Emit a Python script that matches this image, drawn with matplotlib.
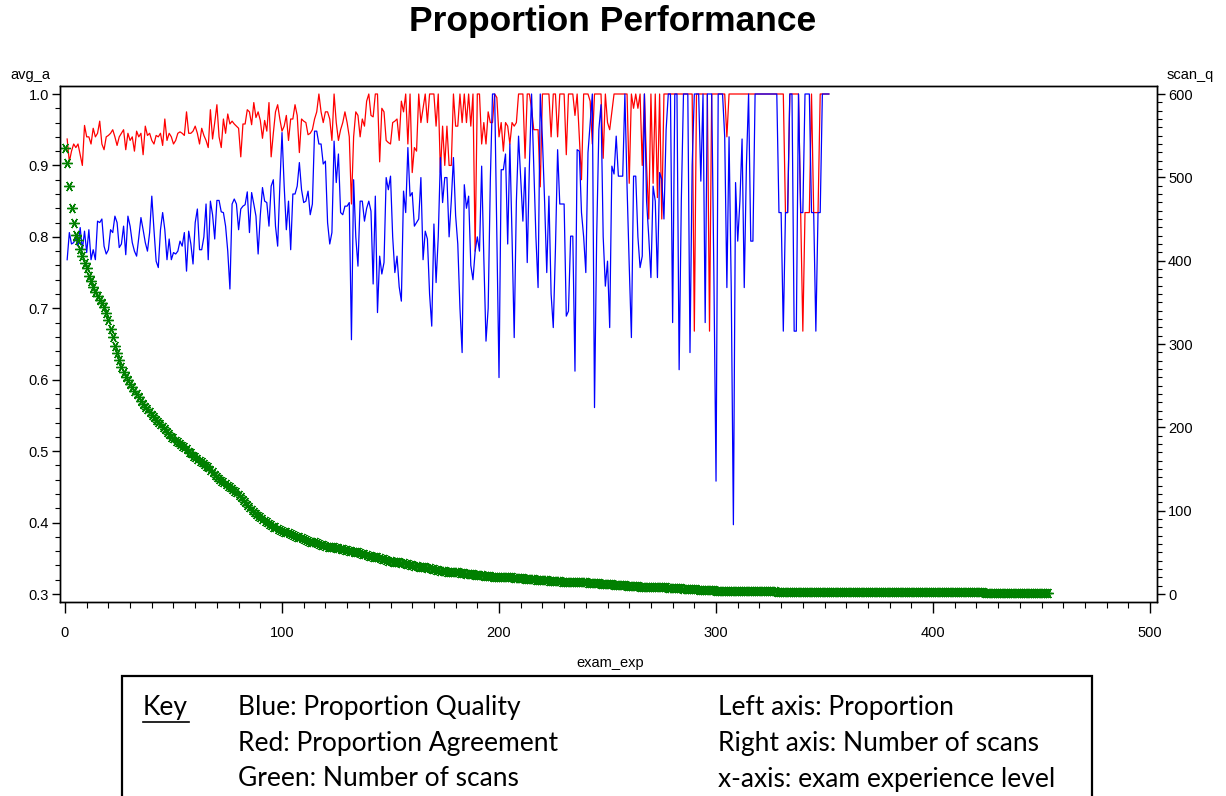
import numpy as np
import matplotlib
matplotlib.use("Agg")
import matplotlib.pyplot as plt
from matplotlib.ticker import MultipleLocator, FormatStrFormatter
from matplotlib.patches import Rectangle
from matplotlib.lines import Line2D

plt.rcParams['font.family'] = ['Liberation Sans', 'DejaVu Sans']

# proportion agreement (red), exam_exp = 1..352
agree = [
    0.937, 0.905, 0.920, 0.930, 0.925, 0.930, 0.915, 0.900, 0.956, 0.940,
    0.940, 0.930, 0.952, 0.940, 0.945, 0.962, 0.930, 0.922, 0.940, 0.942,
    0.945, 0.950, 0.940, 0.928, 0.940, 0.945, 0.950, 0.922, 0.945, 0.935,
    0.940, 0.920, 0.948, 0.940, 0.945, 0.915, 0.955, 0.942, 0.945, 0.935,
    0.930, 0.942, 0.940, 0.945, 0.928, 0.965, 0.935, 0.945, 0.940, 0.930,
    0.935, 0.945, 0.947, 0.945, 0.942, 0.975, 0.945,
    0.945, 0.948, 0.955, 0.945, 0.930, 0.952, 0.942, 0.935, 0.925, 0.978,
    0.937, 0.960, 0.985, 0.940, 0.925, 0.965, 0.945, 0.972, 0.958, 0.962,
    0.958, 0.955, 0.952, 0.912, 0.958, 0.958, 0.978, 0.975, 0.957, 0.988,
    0.967, 0.975, 0.963, 0.938, 0.963, 0.948, 0.988, 0.912, 0.945, 0.975,
    0.985, 0.965, 0.948, 0.955, 0.970, 0.935, 0.965, 0.965, 0.985, 0.970,
    0.918, 0.965, 0.962, 0.960, 0.943, 0.945, 0.950, 0.965, 0.975, 1.000,
    0.975, 0.960, 0.975, 0.975, 0.965, 0.935, 1.000, 0.960, 0.935, 0.950,
    0.960, 0.975, 0.960, 0.940, 0.846, 0.940, 0.975, 0.970, 0.940, 0.965,
    0.955, 0.990, 1.000, 0.970, 0.968, 1.000, 1.000, 0.905, 0.980, 0.975,
    0.935, 0.932, 0.930, 0.960, 0.962, 0.965, 0.935, 0.990, 0.975, 1.000,
    0.930, 1.000, 0.890, 0.925, 0.920, 1.000, 0.960, 0.980, 1.000, 0.960,
    1.000, 1.000, 1.000, 0.955, 1.000, 0.890, 0.955, 0.900, 0.955, 0.900,
    0.900, 1.000, 0.955, 0.955, 1.000, 0.960, 1.000, 0.960, 1.000, 0.955,
    1.000, 0.780, 1.000, 1.000, 0.930, 0.960, 0.930, 0.975, 0.960, 0.960,
    1.000, 0.995, 0.940, 0.960, 0.920, 0.960, 0.955, 0.930, 0.960, 0.955,
    0.960, 1.000, 1.000, 1.000, 0.910, 1.000, 1.000, 0.980, 0.950, 0.950,
    0.950, 0.870, 1.000, 1.000, 1.000, 1.000, 0.940, 1.000, 1.000, 0.940,
    1.000, 1.000, 1.000, 0.915, 1.000, 1.000, 1.000, 0.970, 1.000, 0.940,
    0.880, 1.000, 1.000, 1.000, 0.990, 0.930, 1.000, 1.000, 1.000, 1.000,
    0.910, 1.000, 0.960, 0.950, 0.975, 1.000, 1.000, 1.000, 1.000, 1.000,
    1.000, 1.000, 0.875, 1.000, 0.980, 1.000, 0.980, 1.000, 0.900, 1.000,
    0.900, 0.825, 1.000, 0.875, 1.000, 0.855, 1.000, 0.825, 1.000, 1.000,
    1.000, 1.000, 1.000, 1.000, 1.000, 1.000, 1.000, 1.000, 1.000, 1.000,
    1.000, 1.000, 0.668, 1.000, 1.000, 1.000, 1.000, 1.000, 1.000, 0.668,
    1.000, 1.000, 1.000, 1.000, 1.000, 1.000, 1.000, 0.940, 1.000, 1.000,
    1.000, 1.000, 1.000, 1.000, 1.000, 1.000, 1.000, 1.000, 1.000, 1.000,
    1.000, 1.000, 1.000, 1.000, 1.000, 1.000, 1.000, 1.000, 1.000, 1.000,
    1.000, 1.000, 1.000, 1.000, 0.834, 0.834, 1.000, 1.000, 1.000, 1.000,
    1.000, 0.834, 0.668, 0.834, 0.834, 0.834, 1.000, 0.834, 0.834, 0.834,
    1.000, 1.000, 1.000, 1.000, 1.000,
]

# proportion quality (blue), exam_exp = 1..352
quality = [
    0.768, 0.806, 0.790, 0.792, 0.799, 0.787, 0.813, 0.782, 0.808, 0.778,
    0.810, 0.768, 0.782, 0.768, 0.822, 0.820, 0.825, 0.787, 0.776, 0.782,
    0.810, 0.806, 0.829, 0.820, 0.785, 0.790, 0.815, 0.775, 0.829, 0.815,
    0.792, 0.780, 0.773, 0.799, 0.827, 0.810, 0.792, 0.780, 0.806, 0.857,
    0.810, 0.766, 0.757, 0.810, 0.834, 0.810, 0.768, 0.797, 0.768, 0.778,
    0.776, 0.780, 0.794, 0.787, 0.806, 0.752, 0.808,
    0.790, 0.762, 0.820, 0.839, 0.782, 0.782, 0.800, 0.846, 0.768, 0.850,
    0.831, 0.797, 0.851, 0.851, 0.835, 0.834, 0.815, 0.780, 0.727, 0.846,
    0.853, 0.846, 0.810, 0.839, 0.843, 0.845, 0.863, 0.806, 0.862, 0.846,
    0.829, 0.776, 0.830, 0.869, 0.850, 0.848, 0.815, 0.871, 0.880, 0.815,
    0.787, 0.871, 0.946, 0.871, 0.810, 0.850, 0.782, 0.860, 0.860, 0.871,
    0.904, 0.866, 0.848, 0.850, 0.864, 0.831, 0.846, 0.948, 0.948, 0.930,
    0.930, 0.902, 0.906, 0.820, 0.790, 0.806, 0.934, 0.876, 0.916, 0.834,
    0.831, 0.843, 0.843, 0.848, 0.656, 0.880, 0.800, 0.759, 0.850, 0.850,
    0.822, 0.840, 0.850, 0.836, 0.734, 0.857, 0.694, 0.773, 0.748, 0.764,
    0.883, 0.866, 0.885, 0.800, 0.750, 0.773, 0.730, 0.710, 0.864, 0.834,
    0.925, 0.857, 0.862, 0.815, 0.820, 0.825, 0.883, 0.768, 0.808, 0.797,
    0.720, 0.675, 0.818, 0.736, 0.800, 0.911, 0.848, 0.883, 0.883, 0.800,
    0.850, 0.911, 0.830, 0.790, 0.700, 0.638, 0.873, 0.840, 0.857, 0.760,
    0.740, 0.780, 0.800, 0.780, 0.899, 0.770, 0.654, 0.700, 0.880, 1.000,
    1.000, 0.800, 0.603, 0.894, 0.894, 0.916, 0.790, 0.930, 0.800, 0.659,
    0.850, 0.941, 0.880, 0.822, 0.897, 0.764, 0.900, 1.000, 0.900, 0.800,
    0.729, 1.000, 0.937, 0.850, 0.750, 0.857, 0.720, 0.673, 0.783, 0.922,
    0.846, 0.846, 0.846, 0.689, 0.696, 0.801, 0.801, 0.612, 0.922, 0.920,
    0.834, 0.800, 0.750, 0.918, 0.960, 1.000, 0.561, 0.800, 0.950, 0.985,
    0.800, 0.731, 0.766, 0.673, 0.899, 0.888, 0.941, 0.885, 0.885, 0.885,
    1.000, 0.870, 0.760, 0.659, 0.885, 0.885, 0.800, 0.757, 0.773, 1.000,
    0.850, 0.800, 0.743, 0.871, 0.850, 0.743, 0.890, 0.880, 0.825, 0.950,
    1.000, 1.000, 0.680, 1.000, 1.000, 0.614, 0.850, 1.000, 1.000, 1.000,
    0.638, 0.900, 1.000, 1.000, 1.000, 0.878, 1.000, 0.680, 1.000, 1.000,
    1.000, 0.750, 0.458, 1.000, 1.000, 1.000, 0.940, 0.729, 0.940, 0.729,
    0.397, 0.876, 0.794, 0.850, 0.937, 0.729, 0.900, 1.000, 0.794, 0.794,
    1.000, 1.000, 1.000, 1.000, 1.000, 1.000, 1.000, 1.000, 1.000, 1.000,
    1.000, 0.834, 0.834, 0.668, 0.834, 0.834, 1.000, 1.000, 0.668, 0.668,
    1.000, 0.834, 0.834, 1.000, 1.000, 1.000, 0.834, 0.834, 0.668, 0.834,
    0.834, 1.000, 1.000, 1.000, 1.000,
]

# number of scans (green, right axis), exam_exp = 0..453
scans = [
    535, 517, 490, 463, 445, 431, 425, 414, 406, 397,
    391, 382, 376, 369, 363, 358, 353, 349, 345, 337,
    329, 318, 308, 298, 289, 281, 273, 266, 261, 257,
    252, 248, 244, 240, 236, 232, 228, 225, 222, 218,
    215, 212, 209, 206, 204, 201, 198, 195, 192, 189,
    187, 184, 182, 180, 178, 176, 174, 171, 169, 166,
    164, 162, 160, 158, 156, 154, 152, 149, 146, 143,
    140, 138, 136, 134, 132, 130, 128, 126, 124, 122,
    119, 116, 113, 110, 107, 104, 101, 98, 96, 94,
    92, 90, 88, 86, 84, 83, 81, 80, 78, 77,
    76, 75, 74, 73, 72, 71, 70, 69, 68, 67,
    66, 65, 64, 63, 62, 62, 61, 60, 59, 59,
    58, 57, 57, 56, 56, 55, 55, 54, 54, 53,
    53, 52, 52, 51, 51, 50, 49, 48, 48, 47,
    46, 46, 45, 44, 44, 43, 42, 42, 41, 40,
    40, 39, 39, 38, 38, 37, 37, 36, 36, 35,
    35, 34, 34, 33, 33, 32, 32, 31, 31, 30,
    30, 29, 29, 28, 28, 28, 27, 27, 27, 26,
    26, 26, 25, 25, 25, 24, 24, 24, 24, 23,
    23, 23, 23, 22, 22, 22, 22, 21, 21, 21,
    21, 21, 20, 20, 20, 20, 20, 19, 19, 19,
    19, 19, 18, 18, 18, 18, 18, 17, 17, 17,
    17, 17, 17, 16, 16, 16, 16, 16, 16, 15,
    15, 15, 15, 15, 15, 14, 14, 14, 14, 14,
    14, 13, 13, 13, 13, 13, 13, 12, 12, 12,
    12, 12, 12, 11, 11, 11, 11, 11, 11, 10,
    10, 10, 10, 10, 10, 9, 9, 9, 9, 9,
    9, 8, 8, 8, 8, 8, 8, 8, 7, 7,
    7, 7, 7, 7, 7, 6, 6, 6, 6, 6,
    6, 6, 5, 5, 5, 5, 5, 5, 5, 5,
    4, 4, 4, 4, 4, 4, 4, 4, 4, 4,
    4, 4, 4, 4, 4, 4, 4, 4, 4, 4,
    4, 4, 4, 4, 4, 4, 4, 4, 3, 3,
    3, 3, 3, 3, 3, 3, 3, 3, 3, 3,
    3, 3, 3, 3, 3, 3, 3, 3, 3, 3,
    3, 3, 3, 3, 3, 3, 3, 3, 3, 3,
    3, 3, 3, 3, 3, 3, 3, 3, 3, 3,
    2, 2, 2, 2, 2, 2, 2, 2, 2, 2,
    2, 2, 2, 2, 2, 2, 2, 2, 2, 2,
    2, 2, 2, 2, 2, 2, 2, 2, 2, 2,
    2, 2, 2, 2, 2, 2, 2, 2, 2, 2,
    2, 2, 2, 2, 2, 2, 2, 2, 2, 2,
    2, 2, 2, 2, 1, 1, 1, 1, 1, 1,
    1, 1, 1, 1, 1, 1, 1, 1, 1, 1,
    1, 1, 1, 1, 1, 1, 1, 1, 1, 1,
    1, 1, 1, 1,
]

exp_lines = np.arange(1, len(agree) + 1)
exp_scans = np.arange(0, len(scans))

key_left = ["Blue: Proportion Quality", "Red: Proportion Agreement", "Green: Number of scans"]
key_right = ["Left axis: Proportion", "Right axis: Number of scans", "x-axis: exam experience level"]

W, H = 1226, 796
fig = plt.figure(figsize=(W / 100, H / 100), dpi=100)
ax = fig.add_axes([60 / W, 1 - 602 / H, 1097 / W, 516 / H])

ax.plot(exp_lines, agree, color='#ff0000', lw=0.9)
ax.plot(exp_lines, quality, color='#0000ff', lw=0.9)
ax.set_xlim(-2.3, 503.2)
ax.set_ylim(0.2888, 1.0112)

ax2 = ax.twinx()
ax2.plot(exp_scans, scans, ls='none', marker=(6, 2, 90), ms=7.5, mew=1.0,
         color='#008000')
ax2.set_ylim(-9.6, 609.6)

ax.xaxis.set_major_locator(MultipleLocator(100))
ax.xaxis.set_minor_locator(MultipleLocator(10))
ax.yaxis.set_major_locator(MultipleLocator(0.1))
ax.yaxis.set_minor_locator(MultipleLocator(0.02))
ax.yaxis.set_major_formatter(FormatStrFormatter('%.1f'))
ax2.yaxis.set_major_locator(MultipleLocator(100))
ax2.yaxis.set_minor_locator(MultipleLocator(10))

for a in (ax, ax2):
    a.tick_params(which='major', direction='out', length=6, width=1, labelsize=10.5, pad=2)
    a.tick_params(which='minor', direction='out', length=3.5, width=0.8)
    for s in a.spines.values():
        s.set_linewidth(1.0)
ax.tick_params(axis='x', which='major', length=8, pad=9)
ax.tick_params(axis='x', which='minor', length=4)

fig.text(0.5, 1 - 22 / H, "Proportion Performance", ha='center', va='center',
         fontsize=25.5, fontweight='bold')
fig.text(10 / W, 1 - 75 / H, "avg_a", ha='left', va='center', fontsize=10.5)
fig.text(1167 / W, 1 - 75 / H, "scan_q", ha='left', va='center', fontsize=10.5)
fig.text(610 / W, 1 - 663 / H, "exam_exp", ha='center', va='center', fontsize=10.5)

# key box at the bottom (runs off the lower edge)
box = Rectangle((122 / W, -0.05), 970 / W, 0.05 + (H - 676) / H, transform=fig.transFigure,
                fill=False, lw=1.6, ec='black', clip_on=False)
fig.add_artist(box)
key_font = ['Lato', 'DejaVu Sans']
fig.text(143 / W, 1 - 707 / H, "Key", ha='left', va='center', fontsize=19, family=key_font)
fig.add_artist(Line2D([143 / W, 189 / W], [1 - 722 / H, 1 - 722 / H], color='black', lw=1.2,
                      transform=fig.transFigure))
for i, (l, r) in enumerate(zip(key_left, key_right)):
    yy = 1 - (707 + 36 * i) / H
    fig.text(238 / W, yy, l, ha='left', va='center', fontsize=19, family=key_font)
    fig.text(718 / W, yy, r, ha='left', va='center', fontsize=19, family=key_font)

fig.savefig("out.png", dpi=100)
